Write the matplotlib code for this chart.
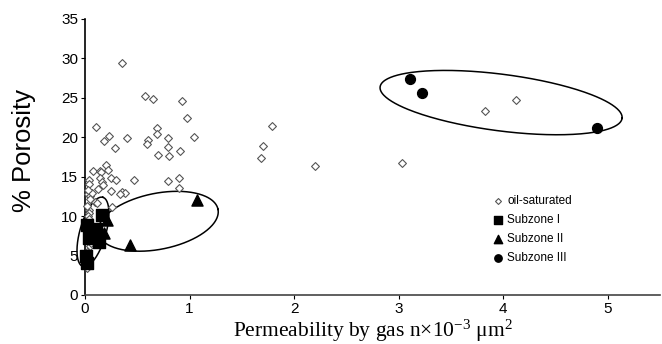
import numpy as np
import matplotlib
matplotlib.use("Agg")
import matplotlib.pyplot as plt

plt.rcParams["mathtext.fontset"] = "custom"
plt.rcParams["mathtext.rm"] = "Liberation Serif"
plt.rcParams["mathtext.it"] = "Liberation Serif:italic"

# dados
oil_x = [0.35, 0.575, 0.65, 0.93, 0.98, 0.105, 0.69, 0.69, 0.23, 0.185,
         0.405, 0.60, 0.59, 0.79, 1.04, 0.29, 0.79, 0.91, 0.70, 0.805,
         1.79, 1.70, 1.68, 2.20, 3.03, 3.83, 4.12,
         0.077, 0.144, 0.154, 0.20, 0.22, 0.144, 0.25, 0.30, 0.47, 0.035,
         0.035, 0.166, 0.176, 0.12, 0.25, 0.355, 0.38, 0.335, 0.895, 0.795,
         0.895, 0.03, 0.05, 0.07, 0.10, 0.11, 0.256,
         0.035, 0.04, 0.03, 0.04, 0.05, 0.02, 0.03, 0.02, 0.04, 0.03,
         0.02, 0.05, 0.03, 0.04, 0.06]
oil_y = [29.4, 25.2, 24.9, 24.6, 22.4, 21.3, 21.2, 20.4, 20.1, 19.5,
         19.9, 19.7, 19.2, 19.9, 20.0, 18.7, 18.75, 18.3, 17.7, 17.6,
         21.4, 18.9, 17.4, 16.4, 16.8, 23.3, 24.7,
         15.7, 15.7, 15.6, 16.5, 15.9, 14.9, 14.8, 14.6, 14.55, 14.6,
         14.1, 14.3, 14.0, 13.4, 13.2, 13.0, 12.9, 12.8, 14.8, 14.4,
         13.6, 12.8, 12.5, 12.9, 11.8, 11.7, 11.1,
         10.8, 10.4, 10.0, 8.1, 6.2, 3.4, 4.5, 5.5, 7.0, 9.2,
         11.3, 12.2, 13.3, 9.7, 6.6]

sub1_x = [0.165, 0.016, 0.105, 0.04, 0.137, 0.01, 0.016]
sub1_y = [10.1, 8.85, 8.4, 7.2, 6.7, 4.9, 4.0]

sub2_x = [1.07, 0.43, 0.207, 0.185]
sub2_y = [12.1, 6.4, 9.5, 7.9]

sub3_x = [3.11, 3.22, 4.90]
sub3_y = [27.4, 25.6, 21.2]

# elipses: centro (dados), semi-eixos (px), angulo (graus)
ellipses = [(0.076, 8.0, 36, 13, 74.0),
            (0.70, 9.35, 61, 28, 11.3),
            (3.98, 24.4, 122, 28.3, -7.4)]

W, H = 662, 344
fig = plt.figure(figsize=(W / 100, H / 100), dpi=100)
ax = fig.add_axes([85 / W, 1 - 295 / H, 575 / W, 276 / H])

ax.set_xlim(0, 5.5)
ax.set_ylim(0, 35)
sx = 575 / 5.5   # px por unidade x
sy = 276 / 35    # px por unidade y

for cx, cy, a, b, ang in ellipses:
    t = np.linspace(0, 2 * np.pi, 300)
    th = np.radians(ang)
    u = a * np.cos(t) * np.cos(th) - b * np.sin(t) * np.sin(th)
    v = a * np.cos(t) * np.sin(th) + b * np.sin(t) * np.cos(th)
    ax.plot(cx + u / sx, cy + v / sy, color="black", lw=1.1, zorder=2,
            clip_on=False)

ax.scatter(oil_x, oil_y, marker="D", s=16, facecolors="white",
           edgecolors="#555555", linewidths=0.8, label="oil-saturated",
           zorder=3, clip_on=False)
ax.scatter(sub1_x, sub1_y, marker="s", s=64, color="black",
           label="Subzone I", zorder=4, clip_on=False)
ax.scatter(sub2_x, sub2_y, marker="^", s=64, color="black",
           label="Subzone II", zorder=4, clip_on=False)
ax.scatter(sub3_x, sub3_y, marker="o", s=50, color="black",
           label="Subzone III", zorder=4, clip_on=False)

for s in ["top", "right"]:
    ax.spines[s].set_visible(False)
ax.spines["left"].set_linewidth(1.2)
ax.spines["bottom"].set_linewidth(1.2)
ax.spines["bottom"].set_color("#444444")
ax.set_xticks([0, 1, 2, 3, 4, 5])
ax.set_yticks(range(0, 36, 5))
ax.tick_params(labelsize=11, length=3, direction="out", pad=2)
for lab in ax.get_xticklabels() + ax.get_yticklabels():
    lab.set_family("Liberation Sans")

ax.set_ylabel("% Porosity", fontsize=18.5, family="Liberation Sans")
ax.yaxis.set_label_coords(-0.085, 0.522)
ax.set_xlabel(r"Permeability by gas n$\times$10$^{\mathregular{-3}}$ "
              r"$\mathregular{\mu}$m$^{\mathregular{2}}$",
              fontsize=15.5, family="Liberation Serif", labelpad=1)

leg = ax.legend(loc="upper left", bbox_to_anchor=(402 / 575, 105 / 276),
                frameon=False, handletextpad=0.3, markerscale=0.75,
                labelspacing=0.6, borderaxespad=0, handlelength=1.0,
                prop={"family": "Liberation Sans", "size": 8.5})

fig.savefig("out.png", dpi=100)
